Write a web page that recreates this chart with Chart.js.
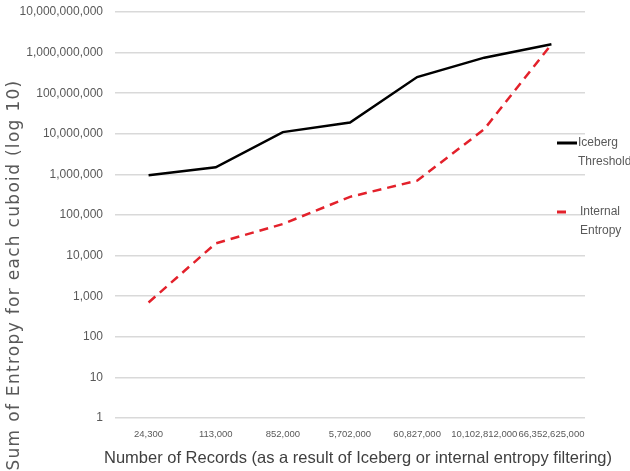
<!DOCTYPE html>
<html>
<head>
<meta charset="utf-8">
<script src="https://cdn.jsdelivr.net/npm/chart.js@4/dist/chart.umd.min.js"></script>
<style>
  html, body { margin: 0; padding: 0; background: #ffffff; }
  #wrap { position: relative; width: 630px; height: 471px; }
</style>
</head>
<body>
<div id="wrap"><canvas id="chart" width="630" height="471"></canvas></div>
<script>
// Record counts after filtering (category axis)
const categories = ['24,300', '113,000', '852,000', '5,702,000', '60,827,000', '10,102,812,000', '66,352,625,000'];

// Sum of entropy per cuboid for each filtering method
const icebergThreshold = [950000, 1500000, 11000000, 19000000, 250000000, 750000000, 1600000000];
const internalEntropy  = [700, 20000, 60000, 280000, 700000, 13000000, 1600000000];

// Series names (two-line legend labels)
const seriesNames = [['Iceberg', 'Threshold'], ['Internal', 'Entropy']];

// Log-scale tick values (powers of ten)
const yTicks = [1, 10, 100, 1000, 10000, 100000, 1000000, 10000000, 100000000, 1000000000, 10000000000];

const yTitle = 'Sum of Entropy for each cuboid (log 10)';
const xTitle = 'Number of Records (as a result of Iceberg or internal entropy filtering)';

const narrow = '"Liberation Sans Narrow", "Liberation Sans", sans-serif';

// Legend on the right, drawn with two-line labels
const sideLegend = {
  id: 'sideLegend',
  afterDraw(chart, args, opts) {
    const ctx = chart.ctx;
    ctx.save();
    chart.data.datasets.forEach((ds, i) => {
      const it = opts.items[i];
      ctx.strokeStyle = ds.borderColor;
      ctx.lineWidth = ds.borderWidth + 0.5;
      ctx.setLineDash([]);
      ctx.beginPath();
      ctx.moveTo(it.x0, it.y);
      ctx.lineTo(it.x1, it.y);
      ctx.stroke();
      ctx.fillStyle = opts.color;
      ctx.font = opts.font;
      ctx.textBaseline = 'middle';
      ctx.textAlign = 'left';
      ds.label.forEach((line, k) => ctx.fillText(line, it.tx, it.y + k * opts.lineGap));
    });
    ctx.restore();
  }
};

// Axis titles, drawn free of the chart-area width limit
const axisTitles = {
  id: 'axisTitles',
  afterDraw(chart, args, opts) {
    const ctx = chart.ctx;
    ctx.save();
    ctx.textAlign = 'center';
    ctx.textBaseline = 'middle';
    if ('letterSpacing' in ctx) ctx.letterSpacing = '0px';

    // x title
    ctx.font = opts.x.font;
    ctx.fillStyle = opts.x.color;
    ctx.fillText(xTitle, opts.x.cx, opts.x.cy);

    // y title, rotated
    ctx.translate(opts.y.cx, opts.y.cy);
    ctx.rotate(-Math.PI / 2);
    ctx.font = opts.y.font;
    ctx.fillStyle = opts.y.color;
    if ('letterSpacing' in ctx) ctx.letterSpacing = opts.y.spacing;
    ctx.fillText(yTitle, 0, 0);
    ctx.restore();
  }
};

new Chart(document.getElementById('chart'), {
  type: 'line',
  data: {
    labels: categories,
    datasets: [
      {
        label: seriesNames[0],
        data: icebergThreshold,
        borderColor: '#000000',
        backgroundColor: '#000000',
        borderWidth: 2.5,
        pointRadius: 0,
        tension: 0,
        fill: false
      },
      {
        label: seriesNames[1],
        data: internalEntropy,
        borderColor: '#e3212b',
        backgroundColor: '#e3212b',
        borderWidth: 2.5,
        borderDash: [9, 6],
        pointRadius: 0,
        tension: 0,
        fill: false
      }
    ]
  },
  options: {
    responsive: false,
    animation: false,
    events: [],
    layout: { padding: { left: 0, right: 45, top: 12, bottom: 0 } },
    plugins: {
      legend: { display: false },
      tooltip: { enabled: false },
      sideLegend: {
        color: '#595959',
        font: '12px ' + narrow,
        lineGap: 19,
        items: [
          { x0: 557, x1: 577, tx: 578, y: 143 },
          { x0: 557, x1: 566, tx: 580, y: 212 }
        ]
      },
      axisTitles: {
        x: { cx: 358, cy: 458, font: '16.5px ' + narrow, color: '#404040' },
        y: { cx: 15, cy: 275, font: '17px "DejaVu Sans", sans-serif', color: '#595959', spacing: '1.3px' }
      }
    },
    scales: {
      x: {
        type: 'category',
        offset: true,
        afterFit(s) { s.height = 53; },
        grid: { display: false, drawTicks: false },
        border: { display: false },
        ticks: {
          color: '#595959',
          padding: 11,
          maxRotation: 0,
          autoSkip: false,
          font: { family: narrow, size: 9.5 }
        }
      },
      y: {
        type: 'logarithmic',
        min: 1,
        max: 10000000000,
        afterFit(s) { s.width = 115; s.paddingTop = 0; s.paddingBottom = 0; },
        afterBuildTicks(s) { s.ticks = yTicks.map(v => ({ value: v })); },
        grid: { color: '#d9d9d9', lineWidth: 1.5, drawTicks: false },
        border: { display: false },
        ticks: {
          color: '#595959',
          padding: 12,
          font: { family: narrow, size: 12 },
          callback: v => Number(v).toLocaleString('en-US')
        }
      }
    }
  },
  plugins: [sideLegend, axisTitles]
});
</script>
</body>
</html>
